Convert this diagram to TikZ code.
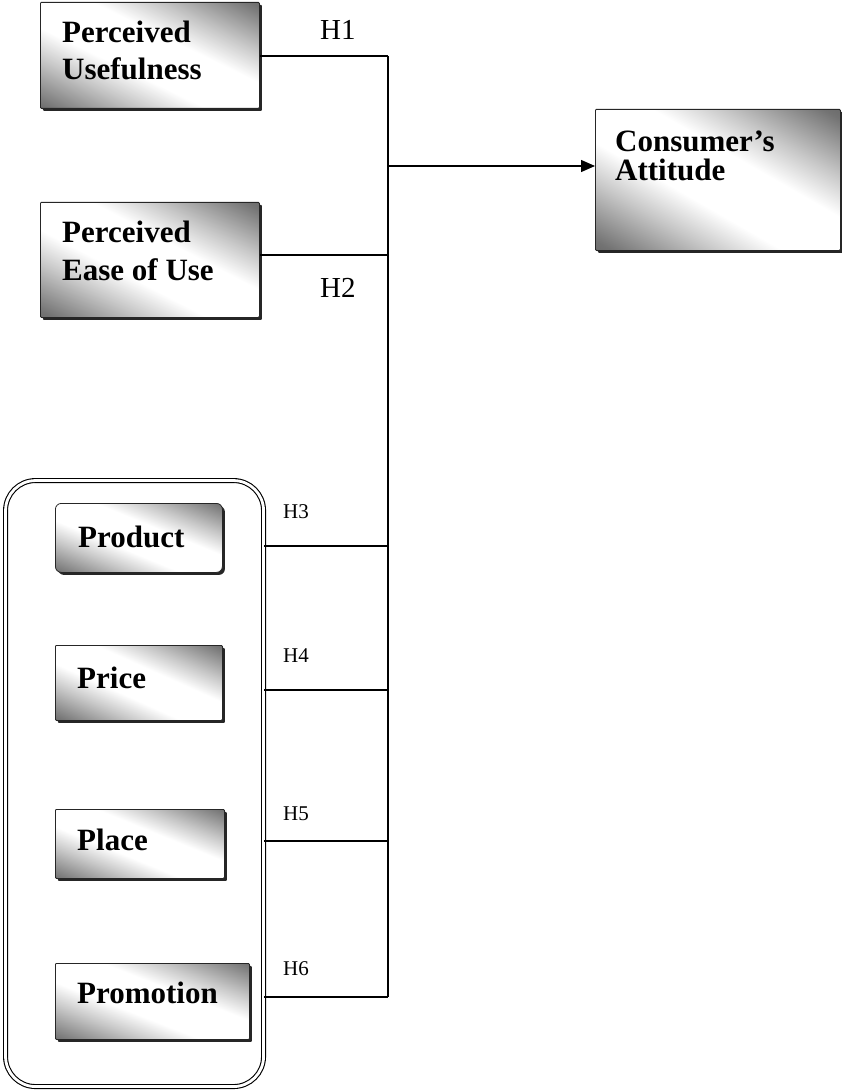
\documentclass[tikz,border=0pt]{standalone}
\usepackage{fontspec}
\setmainfont{Liberation Serif}
\usetikzlibrary{arrows.meta,shadows}
\pgfdeclareverticalshading{diagfade}{100bp}{%
  color(0bp)=(black!76);
  color(18bp)=(black!55);
  color(32bp)=(black!22);
  color(42bp)=(white);
  color(58bp)=(white);
  color(68bp)=(black!22);
  color(82bp)=(black!55);
  color(100bp)=(black!76)}
\begin{document}
\begin{tikzpicture}[x=1pt,y=-1pt,
  shbox/.style={draw=black!85, line width=0.8pt, shading=diagfade,
    shading angle=#1, anchor=north west, inner sep=0pt,
    drop shadow={shadow xshift=2.5pt, shadow yshift=-2.5pt, fill=black!85, opacity=1}},
  lbl/.style={font=\fontsize{31}{36}\selectfont\bfseries, anchor=base west, inner sep=0pt},
  hbig/.style={font=\fontsize{29}{34}\selectfont, anchor=base west, inner sep=0pt},
  hsmall/.style={font=\fontsize{21}{25}\selectfont, anchor=base west, inner sep=0pt},
  conn/.style={line width=1.2pt, draw=black}
]
\useasboundingbox (0,0) rectangle (841,1091);

% outer group box
\node[draw, line width=1.1pt, double, double distance=2.8pt, rounded corners=30pt,
  minimum width=258pt, minimum height=606pt, anchor=north west, inner sep=0pt] (mix) at (5,480) {};

% boxes
\node[shbox=-25.8, minimum width=219pt, minimum height=106pt, rounded corners=1pt] (pu) at (40,2) {};
\node[shbox=-27.7, minimum width=219pt, minimum height=115pt, rounded corners=1pt] (peou) at (40,202) {};
\node[shbox=-29.9, minimum width=245pt, minimum height=141pt, rounded corners=1pt] (ca) at (595,109) {};
\node[shbox=-22.4, minimum width=167pt, minimum height=69pt, rounded corners=6pt] (prod) at (55,503) {};
\node[shbox=-24.2, minimum width=167pt, minimum height=75pt, rounded corners=1pt] (price) at (55,645) {};
\node[shbox=-22.2, minimum width=169pt, minimum height=69pt, rounded corners=1pt] (place) at (55,809) {};
\node[shbox=-21.4, minimum width=194pt, minimum height=76pt, rounded corners=1pt] (promo) at (55,963) {};

% texts
\node[lbl] (pu1) at (62,43) {Perceived};
\node[lbl] (pu2) at (62,80) {Usefulness};
\node[lbl] (pe1) at (62,243) {Perceived};
\node[lbl] (pe2) at (62,280) {Ease of Use};
\node[lbl] (ca1) at (615,152) {Consumer’s};
\node[lbl] (ca2) at (615,181) {Attitude};
\node[lbl] (prodt) at (78,547) {Product};
\node[lbl] (pricet) at (77,688) {Price};
\node[lbl] (placet) at (77,850) {Place};
\node[lbl] (promot) at (77,1003) {Promotion};

% hypothesis labels
\node[hbig] (l1) at (320,40) {H1};
\node[hbig] (l2) at (320,297) {H2};
\node[hsmall] (l3) at (283,518) {H3};
\node[hsmall] (l4) at (283,662) {H4};
\node[hsmall] (l5) at (283,820) {H5};
\node[hsmall] (l6) at (283,975) {H6};

% bus coordinates
\coordinate (b1) at (388,56);
\coordinate (b2) at (388,255);
\coordinate (bj) at (388,166);
\coordinate (b3) at (388,546);
\coordinate (b4) at (388,690);
\coordinate (b5) at (388,841);
\coordinate (b6) at (388,997);

% connectors
\draw[conn] (b1 -| pu.east) -- (b1);
\draw[conn] (b2 -| peou.east) -- (b2);
\draw[conn] (b3 -| mix.east) -- (b3);
\draw[conn] (b4 -| mix.east) -- (b4);
\draw[conn] (b5 -| mix.east) -- (b5);
\draw[conn] (b6 -| mix.east) -- (b6);
\draw[conn] (b1) -- (b6);
\draw[conn, -{Triangle[length=14pt,width=12pt]}] (bj) -- (bj -| ca.west);
\end{tikzpicture}
\end{document}
